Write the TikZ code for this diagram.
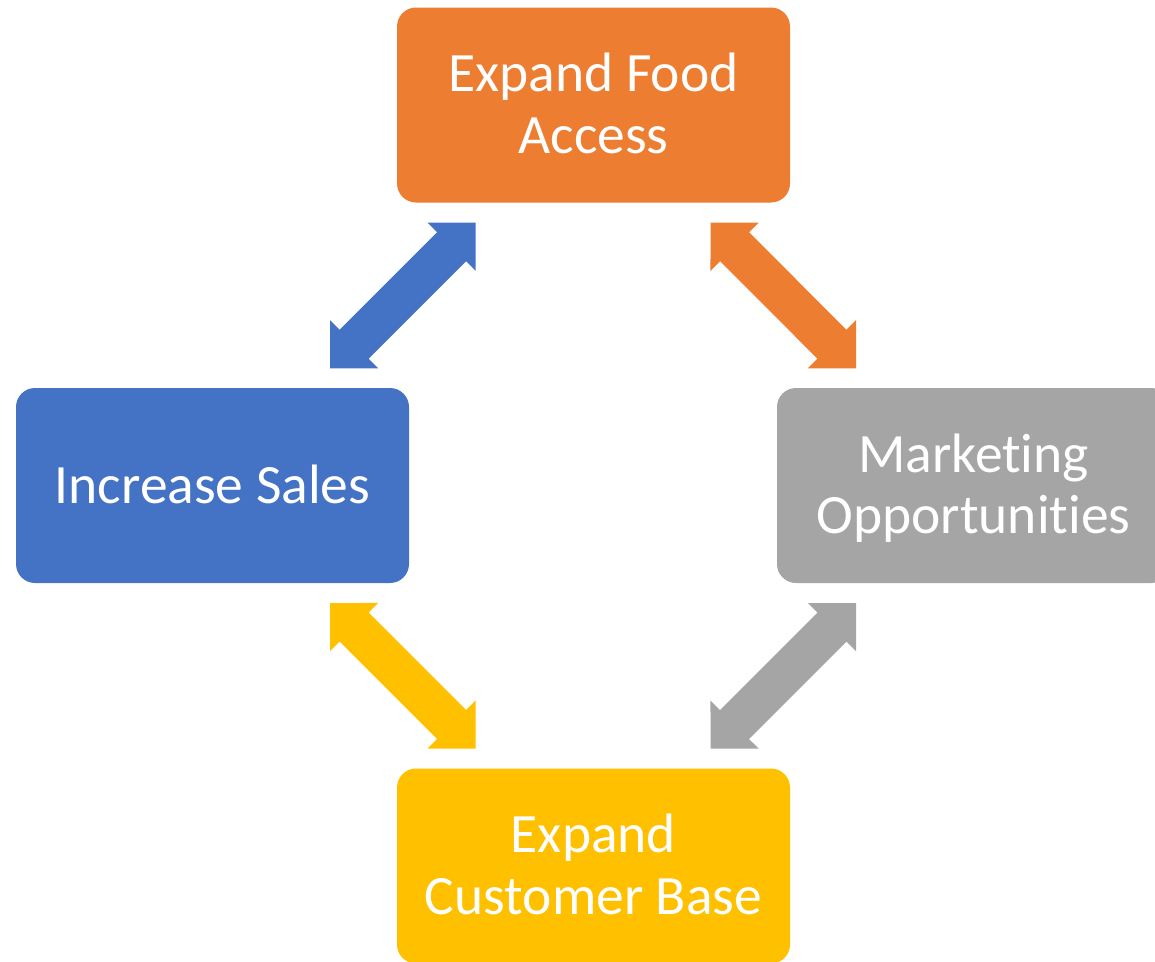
\documentclass[tikz,border=0pt]{standalone}
\usepackage{fontspec}
\setmainfont{Carlito}[Ligatures={NoCommon}]
\usetikzlibrary{calc}

\definecolor{cOrange}{HTML}{ED7D31}
\definecolor{cBlue}{HTML}{4472C4}
\definecolor{cGray}{HTML}{A5A5A5}
\definecolor{cYellow}{HTML}{FFC000}

% Thick double-headed block arrow with right-angled heads between two points
% (head length 34, head half-width 34, shaft half-width 20.5)
\newcommand\blockarrow[3]{%
  \fill[#3] (#1)
    -- ($(#1)!48.1pt!45:(#2)$)
    -- ($(#1)!34pt!(#2)!20.5pt!90:(#2)$)
    -- ($(#2)!34pt!(#1)!20.5pt!-90:(#1)$)
    -- ($(#2)!48.1pt!-45:(#1)$)
    -- (#2)
    -- ($(#2)!48.1pt!45:(#1)$)
    -- ($(#2)!34pt!(#1)!20.5pt!90:(#1)$)
    -- ($(#1)!34pt!(#2)!20.5pt!-90:(#2)$)
    -- ($(#1)!48.1pt!-45:(#2)$)
    -- cycle;}

\begin{document}
\begin{tikzpicture}[x=1pt,y=-1pt,
  box/.style={rectangle, rounded corners=19pt, minimum width=393pt,
    minimum height=195pt, inner sep=0pt},
  boxtext/.style={inner sep=0pt, text=white, align=center,
    font=\fontsize{55.5}{61.5}\selectfont, yshift=-2.8pt}]
\useasboundingbox (0,0) rectangle (1155,961);
\clip (0,0) rectangle (1155,961);

% boxes
\node[box, fill=cOrange] (food)   at (593.5,105)   {};
\node[box, fill=cBlue]   (sales)  at (212.5,485.5) {};
\node[box, fill=cGray]   (market) at (973.5,485.5) {};
\node[box, fill=cYellow] (cust)   at (593.5,866)   {};

% box texts (the phantom gives every last line the same descender depth)
\node[boxtext] (foodtxt)   at (food)   {Expand Food\\Access\vphantom{p}};
\node[boxtext] (salestxt)  at (sales)  {Increase Sales\vphantom{p}};
\node[boxtext] (markettxt) at (market) {Marketing\\Opportunities\vphantom{p}};
\node[boxtext] (custtxt)   at (cust)   {Expand\\Customer Base\vphantom{p}};

% arrow end points
\coordinate (bA) at (475.7,222.7);
\coordinate (bB) at (330,368.3);
\coordinate (oA) at (710.5,222.7);
\coordinate (oB) at (856,368.3);
\coordinate (yA) at (330,603);
\coordinate (yB) at (475.7,748.6);
\coordinate (gA) at (856,603);
\coordinate (gB) at (710.5,748.6);

% connectors
\blockarrow{bA}{bB}{cBlue}
\blockarrow{oA}{oB}{cOrange}
\blockarrow{yA}{yB}{cYellow}
\blockarrow{gA}{gB}{cGray}
\end{tikzpicture}
\end{document}
